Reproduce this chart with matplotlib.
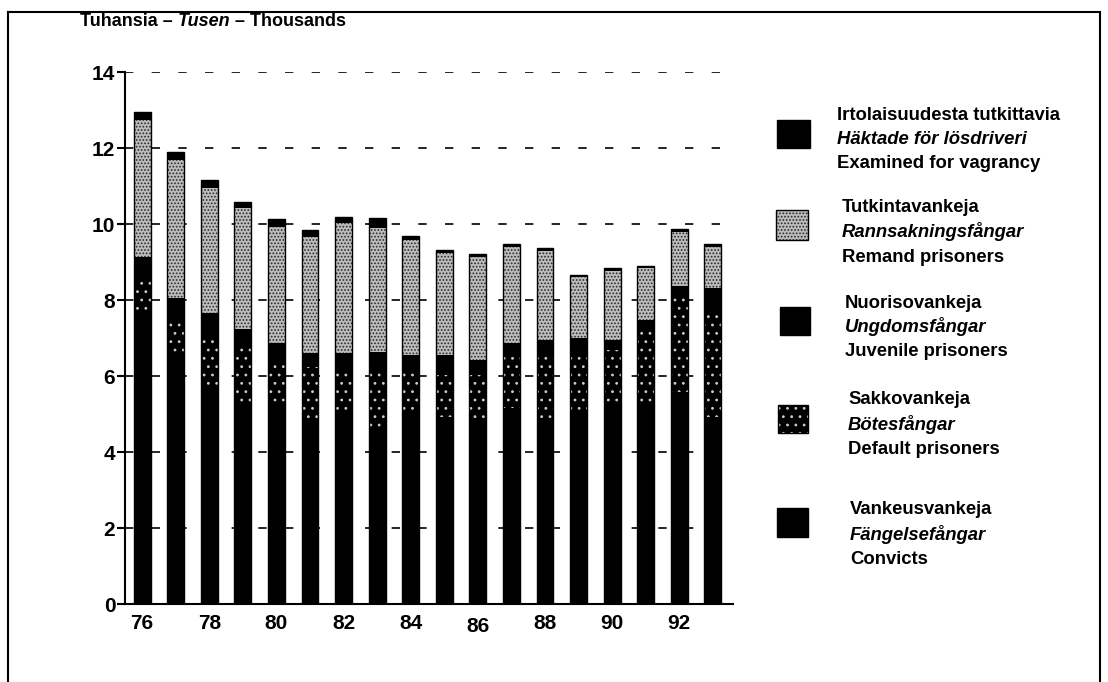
import numpy as np
import matplotlib
matplotlib.use('Agg')
import matplotlib.pyplot as plt
from matplotlib.patches import Rectangle
from matplotlib.lines import Line2D

plt.rcParams['font.family'] = ['Liberation Sans', 'DejaVu Sans']
plt.rcParams['hatch.linewidth'] = 0.8

# data (thousands)
years = np.arange(76, 94)
vankeus = [7.69, 6.51, 5.63, 5.32, 5.32, 4.84, 5.02, 4.67, 4.97, 4.93, 4.84, 5.15, 4.89, 5.06, 5.19, 5.24, 5.59, 4.93]
sakko = [0.89, 1.01, 1.45, 1.55, 1.10, 1.41, 1.14, 1.53, 1.14, 1.10, 1.19, 1.36, 1.75, 1.58, 1.49, 1.97, 2.50, 2.81]
nuoriso = [0.56, 0.52, 0.57, 0.38, 0.44, 0.35, 0.44, 0.44, 0.44, 0.52, 0.39, 0.37, 0.31, 0.37, 0.27, 0.26, 0.28, 0.58]
tutkinta = [3.60, 3.64, 3.29, 3.16, 3.07, 3.05, 3.42, 3.25, 3.03, 2.70, 2.72, 2.51, 2.35, 1.60, 1.82, 1.36, 1.43, 1.08]
irtolais = [0.22, 0.22, 0.23, 0.16, 0.19, 0.19, 0.17, 0.26, 0.10, 0.07, 0.08, 0.08, 0.07, 0.06, 0.08, 0.06, 0.07, 0.07]
xlabels = ['76', '78', '80', '82', '84', '86', '88', '90', '92']

legend_rows = [
    ('Irtolaisuudesta tutkittavia', 'Häktade för lösdriveri', 'Examined for vagrancy'),
    ('Tutkintavankeja', 'Rannsakningsfångar', 'Remand prisoners'),
    ('Nuorisovankeja', 'Ungdomsfångar', 'Juvenile prisoners'),
    ('Sakkovankeja', 'Bötesfångar', 'Default prisoners'),
    ('Vankeusvankeja', 'Fängelsefångar', 'Convicts'),
]

W, H = 1108, 682
fig = plt.figure(figsize=(W/100, H/100), dpi=100)
ax = fig.add_axes([125/W, 1-604/H, (733-125)/W, (604-72)/H])

# styles: (face, hatch colour, hatch)
styles = {
    'vank': ('black', 'black', None),
    'sakko': ('black', '#cccccc', '..'),
    'nuor': ('black', 'black', None),
    'tutk': ('#bcbcbc', '#2a2a2a', '.....'),
    'irt': ('black', 'black', None),
}

w = 0.5
bottom = np.zeros(len(years))
for key, vals in [('vank', vankeus), ('sakko', sakko), ('nuor', nuoriso), ('tutk', tutkinta), ('irt', irtolais)]:
    fc, hc, hatch = styles[key]
    ax.bar(years, vals, w, bottom=bottom, color=fc, edgecolor=hc, hatch=hatch, linewidth=0, zorder=3)
    bottom = bottom + np.array(vals)
ax.bar(years, bottom, w, fill=False, edgecolor='black', linewidth=1.0, zorder=4)

ax.set_xlim(75.49, 93.6)
ax.set_ylim(0, 14)
for yv in range(2, 15, 2):
    ax.axhline(yv, color='black', linestyle=(0, (5, 11)), linewidth=1.2, zorder=1)

ax.spines['top'].set_visible(False)
ax.spines['right'].set_visible(False)
ax.spines['left'].set_linewidth(1.5)
ax.spines['bottom'].set_linewidth(1.5)

ax.set_yticks(range(0, 15, 2))
ax.set_yticklabels([str(v) for v in range(0, 15, 2)], fontsize=15, fontweight='bold')
ax.tick_params(axis='y', length=6, width=1.5, pad=1)
ax.set_xticks(years[::2])
ax.set_xticklabels(xlabels, fontsize=15, fontweight='bold')
ax.tick_params(axis='x', length=0, pad=7)
for t in ax.get_xticklabels():
    if t.get_text() == '86':
        t.set_y(-0.007)

# title in three pieces
t1 = fig.text(80/W, 1-22/H, 'Tuhansia – ', fontsize=13, fontweight='bold', va='center')
t2 = plt.annotate('Tusen', xy=(1, 0), xycoords=t1, fontsize=13, fontweight='bold', style='italic', va='bottom')
t3 = plt.annotate(' – Thousands', xy=(1, 0), xycoords=t2, fontsize=13, fontweight='bold', va='bottom')

# legend
sq = [(777, 120, 33, 28), (776, 210, 32, 30), (780, 307, 30, 28), (778, 405, 30, 28), (777, 508, 31, 29)]
tx = [(837, 115), (842, 208), (845, 303), (848, 400), (850, 510)]
keys = ['irt', 'tutk', 'nuor', 'sakko', 'vank']
for i, key in enumerate(keys):
    fc, hc, hatch = styles[key]
    x0, y0, ww, hh = sq[i]
    fig.patches.append(Rectangle((x0/W, 1-(y0+hh)/H), ww/W, hh/H, transform=fig.transFigure,
                                 facecolor=fc, edgecolor=hc, hatch=hatch, linewidth=0))
    fig.patches.append(Rectangle((x0/W, 1-(y0+hh)/H), ww/W, hh/H, transform=fig.transFigure,
                                 fill=False, edgecolor='black', linewidth=1))
    a, b, c = legend_rows[i]
    x, y = tx[i]
    fig.text(x/W, 1-y/H, a, fontsize=13.3, fontweight='bold', va='center')
    fig.text(x/W, 1-(y+24)/H, b, fontsize=13.3, fontweight='bold', style='italic', va='center')
    fig.text(x/W, 1-(y+49)/H, c, fontsize=13.3, fontweight='bold', va='center')

# frame around the figure
for xs, ys in [([8, 8], [12, 682]), ([8, 1100], [12, 12]), ([1100, 1100], [12, 682])]:
    fig.add_artist(Line2D([v/W for v in xs], [1-v/H for v in ys], color='black', linewidth=1.5))

fig.savefig('out.png', dpi=100)
